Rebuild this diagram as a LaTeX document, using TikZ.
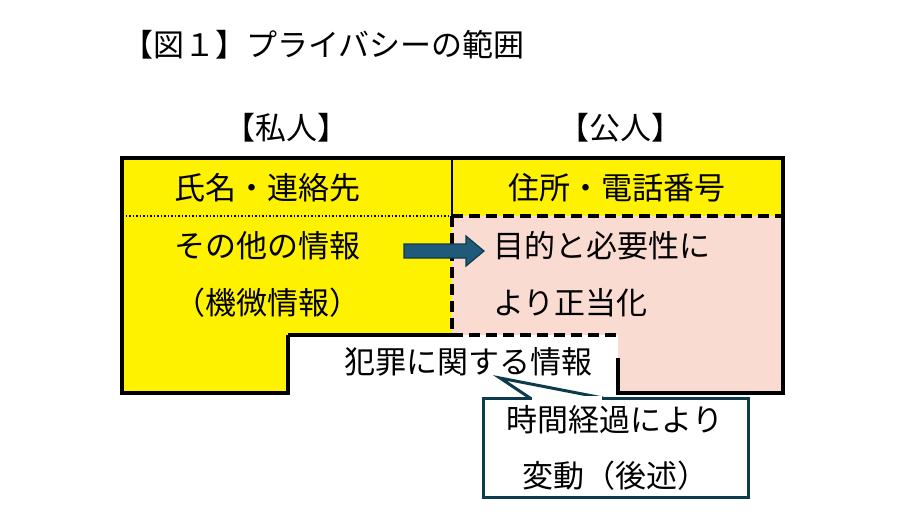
\documentclass[tikz,border=0pt]{standalone}
\usepackage{fontspec}
\setmainfont{Noto Sans CJK JP}
\definecolor{pinkf}{HTML}{FADBD2}
\definecolor{teal}{HTML}{0E3B4C}
\definecolor{arrowf}{HTML}{1F5A7A}
\tikzset{txt/.style={font=\fontsize{31}{34}\selectfont, inner sep=0pt}}
\begin{document}
\begin{tikzpicture}[x=1pt,y=-1pt]
\useasboundingbox (0,0) rectangle (909,530);
% fills
\fill[yellow] (122,158) rectangle (783,216);
\fill[yellow] (122,216) -- (452,216) -- (452,335) -- (288,335) -- (288,393) -- (122,393) -- cycle;
\fill[pinkf] (452,216) -- (783,216) -- (783,393) -- (618,393) -- (618,335) -- (452,335) -- cycle;
% borders
\draw[line width=4pt] (288,335) -- (288,393) -- (122,393) -- (122,158) -- (783,158) -- (783,393) -- (618,393) -- (618,358);
\draw[line width=4pt] (288,335) -- (452,335);
\draw[line width=2.5pt] (452,158) -- (452,216);
\draw[line width=1.5pt, dotted] (122,216) -- (452,216);
\draw[line width=4.5pt, dash pattern=on 11pt off 6pt] (452,216) -- (783,216) -- (783,358);
\draw[line width=4.5pt, dash pattern=on 11pt off 6pt] (452,216) -- (452,335) -- (618,335);
% texts
\node[txt, anchor=west] (title) at (122,45) {【図１】プライバシーの範囲};
\node[txt] (priv) at (286,128) {【私人】};
\node[txt] (pub) at (620,128) {【公人】};
\node[txt] (n1) at (267,188) {氏名・連絡先};
\node[txt] (n2) at (617,188) {住所・電話番号};
\node[txt] (n3) at (267,246) {その他の情報};
\node[txt] (n4) at (267,303) {（機微情報）};
\node[txt, anchor=west] (n5) at (493,246) {目的と必要性に};
\node[txt, anchor=west] (n6) at (493,303) {より正当化};
\node[txt] (crime) at (468,362) {犯罪に関する情報};
% arrow
\draw[teal, fill=arrowf, line width=1.2pt] (404,244) -- (466,244) -- (466,236) -- (484,251) -- (466,266) -- (466,258) -- (404,258) -- cycle;
% callout
\coordinate (tip) at (500,378);
\draw[teal, line width=3pt, fill=white] (530,398) -- (tip) -- (603,398);
\node[draw=teal, line width=3pt, fill=white, minimum width=265pt, minimum height=99pt, inner sep=0pt] (call) at (615.5,448) {};
\fill[white] (531.5,396) rectangle (601.5,401);
\node[txt] (c1) at (615,420) {時間経過により};
\node[txt] (c2) at (615,476) {変動（後述）};
\end{tikzpicture}
\end{document}
